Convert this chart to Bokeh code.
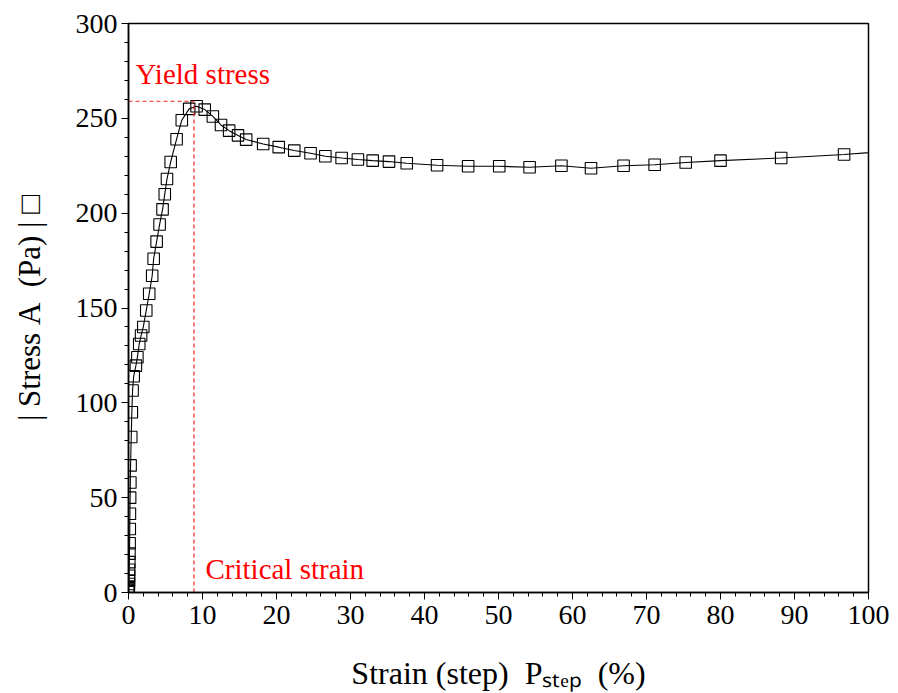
import numpy as np
from bokeh.plotting import figure
from bokeh.models import Range1d, SingleIntervalTicker, Label
from bokeh.embed import file_html
from bokeh.resources import INLINE

# ---- data ----
strain = [0.01, 0.01, 0.02, 0.02, 0.03, 0.04, 0.05, 0.06, 0.07, 0.09, 0.11, 0.13,
          0.15, 0.17, 0.19, 0.22, 0.25, 0.28,
          0.37, 0.45, 0.55, 0.7, 1.0, 1.2, 1.45, 1.7, 2.0, 2.4, 2.8, 3.2, 3.4, 3.8,
          4.2, 4.6, 4.9, 5.2, 5.7, 6.5, 7.2, 8.2, 9.2,
          10.3, 11.4, 12.5, 13.6, 14.8, 15.9, 18.2, 20.3, 22.4, 24.6,
          26.6, 28.8, 31.0, 33.0, 35.2, 37.6, 41.7, 45.9, 50.1, 54.2, 58.5, 62.5,
          66.9, 71.1, 75.3, 80.0, 88.2, 96.7, 105.5]
stress = [0.3, 0.6, 1.0, 1.5, 2.2, 3.2, 4.5, 6.3, 8.8, 12, 16, 20.5,
          26, 33.5, 41.5, 50, 58, 67,
          82, 95, 106.5, 114, 119.6, 124, 131, 135.5, 140, 148.7, 157.5, 167, 176, 185,
          194, 202, 210, 218, 227, 239, 249, 255, 256.4,
          254.6, 251, 246.5, 243.5, 241, 238.8, 236.5, 234.8, 233, 231.6,
          230, 229.1, 228.3, 227.7, 227.2, 226.3, 225.3, 224.7, 224.7, 224.2, 225, 223.7,
          225, 225.5, 226.7, 227.7, 229.1, 230.9, 233.5]
critical_strain = 8.85
yield_stress = 259

NB = "\u00a0"
x_title = "Strain (step)" + NB * 2 + "P\u209b\u209c\u2091\u209a" + NB * 2 + "(%)"
y_title = "|" + NB + "Stress" + NB + "A" + NB * 2 + "(Pa)" + NB + "|" + NB + "\u25a1"

serif = "Liberation Serif"

p = figure(width=898, height=693, output_backend="svg", toolbar_location=None,
           x_range=Range1d(0, 100), y_range=Range1d(0, 300),
           min_border_left=128, min_border_right=30, min_border_top=23,
           min_border_bottom=101, background_fill_color="white",
           border_fill_color="white")

p.grid.visible = False
p.outline_line_color = "black"
p.outline_line_width = 1.5
p.outline_line_alpha = 1.0

p.line(strain, stress, line_color="black", line_width=1.1)
p.scatter(strain, stress, marker="square", size=11.5, fill_color=None,
          line_color="black", line_width=1.1)

red = "#ee2222"
p.segment(x0=[0], y0=[yield_stress], x1=[critical_strain], y1=[yield_stress],
          line_color=red, line_dash="4 3", line_width=1.2)
p.segment(x0=[critical_strain], y0=[0], x1=[critical_strain], y1=[yield_stress],
          line_color=red, line_dash="4 3", line_width=1.2)

p.xaxis.ticker = SingleIntervalTicker(interval=10, num_minor_ticks=5)
p.yaxis.ticker = SingleIntervalTicker(interval=50, num_minor_ticks=5)
for ax in (p.xaxis[0], p.yaxis[0]):
    ax.axis_line_color = "black"
    ax.axis_line_width = 1.5
    ax.major_tick_in = 0
    ax.major_tick_out = 7
    ax.minor_tick_in = 0
    ax.minor_tick_out = 4
    ax.major_tick_line_color = "black"
    ax.minor_tick_line_color = "black"
    ax.major_label_text_font = serif
    ax.major_label_text_font_size = "28px"
    ax.major_label_text_color = "black"
    ax.axis_label_text_font = serif
    ax.axis_label_text_font_style = "normal"
    ax.axis_label_text_color = "black"
p.xaxis.major_label_standoff = 6
p.yaxis.major_label_standoff = 4

p.xaxis.axis_label = x_title
p.xaxis.axis_label_text_font_size = "32px"
p.xaxis.axis_label_standoff = 28
p.yaxis.axis_label = y_title
p.yaxis.axis_label_text_font_size = "31px"
p.yaxis.axis_label_standoff = 26

# annotations
p.add_layout(Label(x=0.95, y=273.2, text="Yield stress", text_color="red",
                   text_font=serif, text_font_size="29px",
                   text_baseline="alphabetic"))
p.add_layout(Label(x=10.4, y=12.2, text="Critical strain", text_color="red",
                   text_font=serif, text_font_size="29px",
                   text_baseline="alphabetic"))

open("out.html", "w").write(file_html(p, INLINE))
